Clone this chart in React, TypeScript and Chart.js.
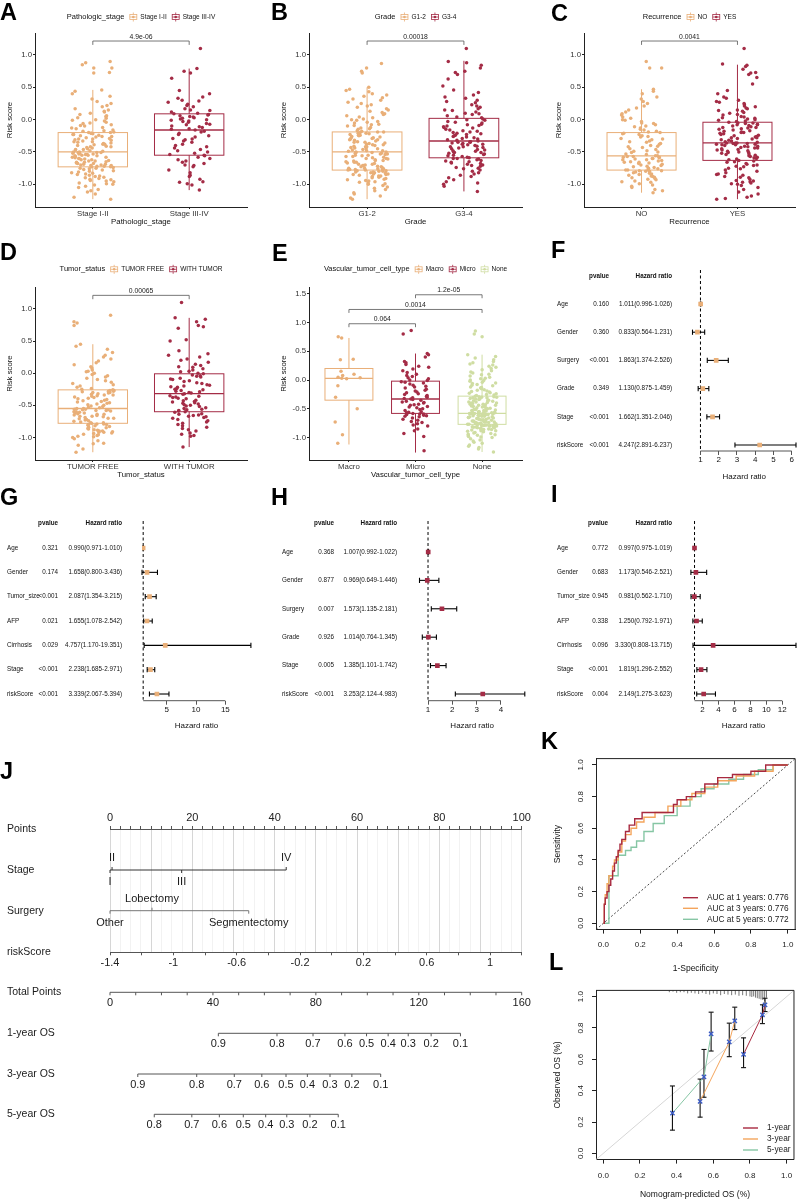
import React, { useEffect, useRef } from "react";
import { Chart, registerables } from "chart.js";
Chart.register(...registerables);

const FONT = '"Liberation Sans", Arial, Helvetica, sans-serif';
Chart.defaults.font.family = FONT;
Chart.defaults.color = "#333";

const TAN = "#E9AF78";
const MAROON = "#A42C46";
const LIME = "#CFDDA2";

// ---------------- Box panels (values in hundredths of risk score) ----------------
const stageCats = ["Stage I-II", "Stage III-IV"];
const stageI_II = [-123,-120,-115,-112,-110,-108,-105,-103,-101,-100,-99,-98,-96,-95,-94,-93,-92,-91,-90,-89,-88,-87,-86,-85,-84,-83,-82,-81,-80,-79,-78,-77,-76,-75,-75,-74,-73,-73,-72,-72,-71,-71,-70,-70,-69,-69,-68,-68,-67,-66,-66,-65,-64,-64,-63,-62,-62,-61,-60,-60,-59,-58,-58,-57,-56,-56,-55,-55,-54,-54,-53,-53,-52,-52,-51,-51,-51,-50,-50,-49,-48,-47,-46,-46,-45,-44,-43,-42,-42,-41,-40,-39,-38,-38,-37,-36,-35,-34,-34,-33,-32,-31,-30,-30,-29,-28,-27,-26,-26,-25,-24,-23,-23,-22,-21,-21,-20,-20,-19,-18,-17,-16,-14,-13,-12,-10,-9,-8,-6,-5,-4,-2,-1,0,2,3,5,6,8,10,12,13,15,17,20,22,25,28,32,36,40,44,46,72,73,80,80,85,88,90];
const stageIII_IV = [-109,-101,-99,-97,-96,-92,-88,-86,-82,-78,-73,-71,-70,-68,-66,-64,-62,-60,-58,-56,-55,-54,-52,-50,-48,-46,-44,-42,-40,-38,-35,-33,-31,-30,-29,-27,-25,-23,-21,-19,-18,-16,-15,-14,-12,-11,-10,-8,-7,-6,-4,-3,-2,-1,0,1,2,3,4,5,6,7,8,9,10,12,14,15,17,20,22,24,27,29,30,33,35,40,45,64,72,75,79,110];
const stageBox = [[-1.23,-0.73,-0.50,-0.20,0.46],[-1.09,-0.55,-0.16,0.09,0.79]];

const gradeCats = ["G1-2", "G3-4"];
const gradeG12 = [-123,-121,-118,-115,-113,-110,-108,-106,-104,-102,-100,-99,-98,-97,-96,-95,-94,-93,-92,-91,-90,-89,-88,-87,-87,-86,-85,-85,-84,-84,-83,-82,-82,-81,-81,-80,-80,-79,-79,-78,-78,-78,-77,-77,-76,-76,-75,-75,-74,-73,-73,-72,-71,-71,-70,-69,-69,-68,-67,-66,-66,-65,-64,-63,-63,-62,-61,-60,-60,-59,-58,-57,-57,-56,-55,-55,-54,-53,-53,-52,-52,-51,-51,-50,-50,-49,-48,-48,-47,-46,-45,-45,-44,-43,-42,-42,-41,-40,-39,-39,-38,-37,-36,-35,-35,-34,-33,-32,-31,-31,-30,-29,-28,-28,-27,-26,-25,-24,-24,-23,-22,-21,-21,-20,-19,-19,-18,-17,-15,-14,-13,-12,-10,-9,-8,-7,-5,-4,-3,-1,0,1,3,4,6,8,9,11,13,15,17,19,21,23,25,27,30,32,34,36,38,40,43,45,47,50,72,75,80,87];
const gradeG34 = [-111,-103,-100,-98,-96,-93,-90,-88,-86,-84,-82,-80,-78,-76,-75,-74,-72,-71,-70,-69,-68,-67,-66,-65,-64,-63,-62,-61,-60,-60,-59,-58,-57,-56,-55,-54,-53,-52,-51,-51,-50,-49,-48,-47,-46,-45,-44,-43,-42,-42,-41,-40,-39,-38,-38,-37,-36,-35,-35,-34,-34,-33,-32,-31,-30,-29,-28,-27,-26,-25,-24,-23,-22,-21,-20,-19,-18,-17,-16,-15,-13,-12,-11,-10,-9,-8,-7,-5,-4,-3,-1,0,1,3,4,6,8,9,10,12,14,15,17,19,21,23,26,28,30,33,35,38,42,46,52,63,70,73,75,80,84,88,90,110];
const gradeBox = [[-1.23,-0.78,-0.50,-0.19,0.50],[-1.11,-0.59,-0.33,0.02,0.91]];

const recCats = ["NO", "YES"];
const recNO = [-113,-110,-108,-105,-103,-101,-99,-97,-96,-95,-93,-92,-91,-90,-89,-88,-87,-86,-85,-84,-83,-82,-81,-80,-80,-79,-79,-78,-78,-77,-76,-75,-74,-73,-72,-71,-70,-69,-68,-67,-66,-66,-65,-64,-63,-62,-62,-61,-60,-60,-59,-58,-58,-57,-57,-56,-56,-54,-53,-51,-50,-49,-48,-46,-45,-43,-42,-41,-40,-38,-37,-35,-34,-33,-31,-30,-29,-27,-26,-25,-23,-22,-21,-20,-19,-18,-16,-15,-13,-11,-10,-8,-6,-5,-3,-1,0,2,4,7,9,12,15,18,21,25,28,32,35,40,44,47,80,80,90];
const recYES = [-123,-122,-120,-118,-115,-112,-108,-105,-102,-100,-99,-98,-97,-96,-95,-94,-92,-90,-89,-88,-86,-85,-84,-82,-80,-78,-76,-75,-73,-72,-71,-70,-69,-68,-66,-65,-64,-63,-62,-61,-60,-59,-58,-57,-56,-55,-54,-53,-52,-51,-51,-50,-49,-48,-47,-47,-46,-45,-44,-44,-43,-42,-41,-41,-40,-39,-39,-38,-38,-37,-37,-36,-36,-36,-35,-34,-33,-32,-31,-30,-29,-28,-28,-27,-26,-25,-24,-23,-22,-21,-20,-20,-19,-18,-17,-16,-15,-14,-13,-12,-12,-11,-10,-9,-8,-8,-7,-6,-5,-5,-4,-3,-2,-1,0,1,2,3,4,5,7,8,10,11,13,14,15,17,18,20,21,23,25,27,28,30,33,35,40,45,55,65,70,72,73,78,82,84,86,110];
const recBox = [[-1.13,-0.78,-0.56,-0.20,0.47],[-1.23,-0.63,-0.36,-0.04,0.85]];

const tumorCats = ["TUMOR FREE", "WITH TUMOR"];
const tumorFree = [-123,-118,-112,-110,-109,-105,-102,-100,-99,-98,-97,-96,-95,-94,-93,-92,-92,-91,-90,-90,-89,-88,-87,-86,-85,-84,-83,-82,-81,-80,-80,-79,-79,-78,-77,-77,-76,-75,-74,-73,-72,-71,-70,-70,-69,-68,-67,-67,-66,-65,-64,-64,-63,-62,-62,-61,-60,-60,-59,-58,-58,-57,-57,-56,-56,-55,-55,-54,-53,-52,-51,-50,-49,-48,-47,-46,-45,-44,-43,-42,-41,-40,-39,-38,-37,-36,-35,-34,-34,-33,-32,-31,-30,-30,-29,-28,-28,-27,-27,-26,-25,-24,-22,-20,-18,-16,-14,-12,-10,-8,-6,-4,-2,0,2,3,5,8,10,13,16,19,22,25,28,32,37,42,45,74,78,80,90];
const withTumor = [-115,-98,-97,-95,-93,-90,-88,-86,-84,-82,-80,-78,-76,-74,-72,-70,-69,-68,-67,-66,-65,-64,-63,-61,-60,-59,-58,-57,-56,-55,-54,-52,-51,-50,-49,-48,-47,-46,-45,-44,-43,-42,-40,-39,-38,-37,-36,-35,-33,-32,-31,-30,-29,-28,-27,-26,-25,-24,-22,-21,-20,-19,-18,-16,-15,-13,-12,-10,-9,-8,-6,-5,-4,-3,-1,0,2,3,5,7,9,10,12,14,17,20,22,25,28,30,35,50,52,70,72,74,80,84,86,110];
const tumorBox = [[-1.23,-0.78,-0.55,-0.26,0.45],[-1.15,-0.60,-0.32,-0.01,0.86]];

const vascCats = ["Macro", "Micro", "None"];
const vascMacro = [-110,-95,-73,-50,-30,-10,2,3,4,5,8,10,15,35,36,73,75];
const vascMicro = [-123,-98,-93,-88,-85,-80,-78,-76,-74,-72,-70,-68,-66,-64,-63,-62,-61,-60,-59,-59,-58,-57,-56,-55,-53,-51,-50,-48,-47,-46,-44,-43,-42,-40,-39,-38,-37,-35,-34,-33,-32,-31,-30,-28,-27,-25,-24,-22,-21,-19,-18,-16,-14,-12,-11,-9,-7,-5,-4,-3,-1,0,2,4,6,8,10,13,16,19,22,24,27,30,32,40,44,46,80,86];
const vascNone = [-125,-120,-117,-115,-113,-110,-108,-106,-104,-102,-100,-99,-98,-97,-96,-95,-94,-93,-92,-91,-90,-89,-88,-88,-87,-86,-86,-85,-84,-84,-83,-83,-82,-82,-81,-81,-80,-80,-80,-79,-79,-79,-78,-78,-78,-77,-77,-77,-76,-76,-76,-75,-75,-75,-74,-74,-73,-73,-72,-72,-71,-71,-70,-70,-69,-69,-68,-68,-67,-67,-66,-66,-65,-65,-64,-64,-63,-63,-62,-62,-61,-61,-61,-60,-60,-60,-59,-59,-59,-58,-58,-58,-58,-58,-57,-57,-56,-56,-55,-55,-54,-54,-53,-53,-52,-51,-51,-50,-50,-49,-48,-48,-47,-46,-46,-45,-44,-44,-43,-42,-42,-41,-40,-40,-39,-38,-38,-37,-36,-35,-35,-34,-33,-33,-32,-31,-31,-30,-30,-29,-29,-28,-27,-26,-25,-24,-23,-22,-21,-20,-19,-18,-17,-15,-14,-13,-12,-10,-9,-8,-6,-5,-4,-2,-1,0,2,3,5,7,9,10,12,14,16,18,20,22,24,26,28,30,32,35,38,41,44,75,80,85];
const vascBox = [[-1.12,-0.35,0.03,0.20,0.73],[-1.26,-0.58,-0.33,-0.02,0.46],[-1.25,-0.77,-0.58,-0.28,0.44]];

// ---------------- Forest plots ----------------
const fLabels = ["Age", "Gender", "Surgery", "Grade", "Stage", "riskScore"];
const fP = ["0.160", "0.360", "<0.001", "0.349", "<0.001", "<0.001"];
const fHR = [1.011, 0.833, 1.863, 1.130, 1.662, 4.247];
const fLo = [0.996, 0.564, 1.374, 0.875, 1.351, 2.891];
const fHi = [1.026, 1.231, 2.526, 1.459, 2.046, 6.237];
const fTicks = [1, 2, 3, 4, 5, 6];

const gLabels = ["Age", "Gender", "Tumor_size", "AFP", "Cirrhosis", "Stage", "riskScore"];
const gP = ["0.321", "0.174", "<0.001", "0.021", "0.029", "<0.001", "<0.001"];
const gHR = [0.990, 1.658, 2.087, 1.655, 4.757, 2.238, 3.339];
const gLo = [0.971, 0.800, 1.354, 1.078, 1.170, 1.685, 2.067];
const gHi = [1.010, 3.436, 3.215, 2.542, 19.351, 2.971, 5.394];
const gTicks = [5, 10, 15];

const hLabels = ["Age", "Gender", "Surgery", "Grade", "Stage", "riskScore"];
const hP = ["0.368", "0.877", "0.007", "0.926", "0.005", "<0.001"];
const hHR = [1.007, 0.969, 1.573, 1.014, 1.385, 3.253];
const hLo = [0.992, 0.649, 1.135, 0.764, 1.101, 2.124];
const hHi = [1.022, 1.446, 2.181, 1.345, 1.742, 4.983];
const hTicks = [1, 2, 3, 4];

const iLabels = ["Age", "Gender", "Tumor_size", "AFP", "Cirrhosis", "Stage", "riskScore"];
const iP = ["0.772", "0.683", "0.945", "0.338", "0.096", "<0.001", "0.004"];
const iHR = [0.997, 1.173, 0.981, 1.250, 3.330, 1.819, 2.149];
const iLo = [0.975, 0.546, 0.562, 0.792, 0.808, 1.296, 1.275];
const iHi = [1.019, 2.521, 1.710, 1.971, 13.715, 2.552, 3.623];
const iTicks = [2, 4, 6, 8, 10, 12];

// ---------------- Nomogram ----------------
const nomoRowNames = ["Points", "Stage", "Surgery", "riskScore", "Total Points", "1-year OS", "3-year OS", "5-year OS"];
const stageLevels = ["I", "II", "III", "IV"];
const stagePoints = [0, 0.5, 17.4, 42.8];
const stageAbove = [false, true, false, true];
const surgeryLevels = ["Other", "Lobectomy", "Segmentectomy"];
const surgeryPoints = [0, 10.2, 33.7];
const surgeryAbove = [false, true, false];
const riskRange = [-1.4, 1.2];
const totalRange = [0, 160];
const os1Values = [0.9, 0.8, 0.7, 0.6, 0.5, 0.4, 0.3, 0.2, 0.1];
const os1Points = [42.1, 64.9, 78.9, 91.3, 99.7, 108.1, 115.9, 124.8, 136.2];
const os3Values = [0.9, 0.8, 0.7, 0.6, 0.5, 0.4, 0.3, 0.2, 0.1];
const os3Points = [10.8, 33.7, 48.3, 59.0, 68.4, 76.7, 85.5, 94.0, 105.2];
const os5Values = [0.8, 0.7, 0.6, 0.5, 0.4, 0.3, 0.2, 0.1];
const os5Points = [17.2, 31.8, 42.5, 51.8, 60.5, 68.7, 77.7, 88.7];

// ---------------- ROC ----------------
const rocLabels = ["AUC at 1 years: 0.776", "AUC at 3 years: 0.776", "AUC at 5 years: 0.772"];
const rocFpr1 = [0, 0.005, 0.01, 0.02, 0.03, 0.04, 0.05, 0.06, 0.07, 0.08, 0.09, 0.10, 0.12, 0.14, 0.17, 0.21, 0.38, 0.40, 0.45, 0.50, 0.55, 0.62, 0.70, 0.80, 0.88, 1.0];
const rocTpr1 = [0, 0.12, 0.16, 0.20, 0.24, 0.28, 0.33, 0.38, 0.42, 0.46, 0.50, 0.53, 0.58, 0.62, 0.66, 0.70, 0.75, 0.78, 0.80, 0.83, 0.88, 0.92, 0.94, 0.96, 1.0, 1.0];
const rocFpr3 = [0, 0.005, 0.01, 0.02, 0.03, 0.05, 0.06, 0.08, 0.10, 0.12, 0.15, 0.18, 0.22, 0.28, 0.35, 0.42, 0.48, 0.55, 0.62, 0.72, 0.82, 0.92, 1.0];
const rocTpr3 = [0, 0.12, 0.18, 0.25, 0.30, 0.36, 0.40, 0.45, 0.52, 0.56, 0.60, 0.64, 0.67, 0.70, 0.74, 0.78, 0.82, 0.86, 0.90, 0.93, 0.96, 1.0, 1.0];
const rocFpr5 = [0, 0.03, 0.08, 0.12, 0.15, 0.18, 0.22, 0.27, 0.33, 0.40, 0.47, 0.53, 0.60, 0.68, 0.76, 0.84, 0.92, 1.0];
const rocTpr5 = [0, 0.30, 0.43, 0.46, 0.48, 0.52, 0.58, 0.63, 0.68, 0.74, 0.80, 0.85, 0.88, 0.91, 0.94, 0.97, 1.0, 1.0];

// ---------------- Calibration ----------------
const calLabels = ["1-year", "3-year", "5-year"];
const calPred1 = [0.765, 0.868, 0.882];
const calObs1 = [0.632, 0.884, 0.948];
const calLo1 = [0.547, 0.828, 0.905];
const calHi1 = [0.737, 0.948, 0.99];
const calPred3 = [0.528, 0.687, 0.717];
const calObs3 = [0.332, 0.711, 0.846];
const calLo3 = [0.231, 0.617, 0.79];
const calHi3 = [0.474, 0.831, 0.933];
const calPred5 = [0.377, 0.549, 0.588];
const calObs5 = [0.256, 0.488, 0.762];
const calLo5 = [0.148, 0.358, 0.653];
const calHi5 = [0.43, 0.663, 0.901];
const rugPred = [0.36, 0.38, 0.40, 0.42, 0.44, 0.46, 0.48, 0.50, 0.52, 0.54, 0.56, 0.58, 0.60, 0.62, 0.64, 0.66, 0.68, 0.70, 0.72, 0.74, 0.76, 0.78, 0.80, 0.81, 0.82, 0.83, 0.84, 0.85, 0.86, 0.87, 0.88, 0.89];
const rugCount = [3, 2, 4, 3, 3, 5, 4, 5, 6, 4, 6, 7, 5, 6, 8, 6, 7, 8, 7, 9, 8, 9, 10, 11, 10, 12, 13, 14, 15, 16, 18, 12];

// ====================================================================
const ROC_COLORS = ["#A8293F", "#F4A55C", "#86C6A4"];
const CAL_COLORS = ["#A8293F", "#F4A55C", "#86C6A4"];

// deterministic horizontal jitter (position only)
const jitter = (j: number, g: number) => {
  const h = Math.sin((j + 1) * 12.9898 + g * 78.233) * 43758.5453;
  return (h - Math.floor(h) - 0.5) * 0.44;
};

function seg(ctx: any, x1: number, y1: number, x2: number, y2: number) {
  ctx.beginPath();
  ctx.moveTo(x1, y1);
  ctx.lineTo(x2, y2);
  ctx.stroke();
}

function drawLegendKey(ctx: any, x: number, y: number, color: string) {
  ctx.save();
  ctx.strokeStyle = color;
  ctx.fillStyle = color;
  ctx.lineWidth = 0.8;
  ctx.strokeRect(x + 0.5, y - 2.5, 7, 5);
  seg(ctx, x + 4, y - 4.5, x + 4, y - 2.5);
  seg(ctx, x + 4, y + 2.5, x + 4, y + 4.5);
  seg(ctx, x + 0.5, y, x + 7.5, y);
  ctx.beginPath();
  ctx.arc(x + 4, y, 1.3, 0, Math.PI * 2);
  ctx.fill();
  ctx.restore();
}

function boxPanelConfig(p: any, pid: number) {
  const n = p.cats.length;
  const datasets = p.groups.map((vals: number[], i: number) => ({
    label: p.cats[i],
    data: vals.map((v, j) => ({ x: i + 1 + jitter(j, pid * 5 + i), y: v / 100 })),
    backgroundColor: p.colors[i],
    borderWidth: 0,
    pointRadius: 1.75,
  }));
  const boxPlugin = {
    id: "boxes",
    beforeDatasetsDraw(chart: any) {
      const { ctx } = chart;
      const xs = chart.scales.x, ys = chart.scales.y;
      ctx.save();
      p.stats.forEach((st: number[], i: number) => {
        const cx = xs.getPixelForValue(i + 1);
        const hw = xs.getPixelForValue(i + 1 + 0.36) - cx;
        const [lo, q1, md, q3, hi] = st.map((v) => ys.getPixelForValue(v));
        ctx.strokeStyle = p.colors[i];
        ctx.lineWidth = 1;
        seg(ctx, cx, lo, cx, q1);
        seg(ctx, cx, q3, cx, hi);
        ctx.strokeRect(cx - hw, q3, 2 * hw, q1 - q3);
        ctx.lineWidth = 1.3;
        seg(ctx, cx - hw, md, cx + hw, md);
      });
      ctx.restore();
    },
    afterDatasetsDraw(chart: any) {
      const { ctx } = chart;
      const xs = chart.scales.x, ys = chart.scales.y;
      ctx.save();
      ctx.strokeStyle = "#555";
      ctx.lineWidth = 0.8;
      ctx.fillStyle = "#222";
      ctx.font = `6.8px ${FONT}`;
      ctx.textAlign = "center";
      ctx.textBaseline = "bottom";
      p.brackets.forEach((b: any) => {
        const x1 = xs.getPixelForValue(b.a), x2 = xs.getPixelForValue(b.b);
        const y = ys.getPixelForValue(b.y), yt = ys.getPixelForValue(b.y - 0.06);
        ctx.beginPath();
        ctx.moveTo(x1, yt);
        ctx.lineTo(x1, y);
        ctx.lineTo(x2, y);
        ctx.lineTo(x2, yt);
        ctx.stroke();
        ctx.fillText(b.label, (x1 + x2) / 2, y - 1);
      });
      ctx.restore();
    },
    afterDraw(chart: any) {
      const { ctx, chartArea } = chart;
      ctx.save();
      ctx.textBaseline = "middle";
      ctx.textAlign = "left";
      ctx.fillStyle = "#111";
      ctx.font = `7.5px ${FONT}`;
      const tw = ctx.measureText(p.legendTitle).width;
      ctx.font = `6.5px ${FONT}`;
      const lws = p.cats.map((c: string) => ctx.measureText(c).width);
      let total = tw;
      lws.forEach((w: number) => (total += 5 + 8 + 3 + w));
      let x = (chartArea.left + chartArea.right) / 2 - total / 2;
      const y = p.legendY;
      ctx.font = `7.5px ${FONT}`;
      ctx.fillText(p.legendTitle, x, y);
      x += tw;
      ctx.font = `6.5px ${FONT}`;
      p.cats.forEach((c: string, i: number) => {
        x += 5;
        drawLegendKey(ctx, x, y, p.colors[i]);
        x += 8 + 3;
        ctx.fillStyle = "#111";
        ctx.fillText(c, x, y);
        x += lws[i];
      });
      ctx.restore();
    },
  };
  return {
    type: "scatter",
    data: { datasets },
    options: {
      animation: false,
      responsive: false,
      events: [],
      layout: { padding: { left: p.L - 30, right: p.w - p.R, top: p.T, bottom: p.h - p.B - 19.7 } },
      plugins: { legend: { display: false }, tooltip: { enabled: false } },
      scales: {
        x: {
          type: "linear",
          min: 0.4,
          max: n + 0.6,
          afterBuildTicks: (s: any) => { s.ticks = p.cats.map((_: string, i: number) => ({ value: i + 1 })); },
          afterFit: (s: any) => { s.height = 19.7; },
          ticks: { callback: (v: number) => p.cats[Math.round(v) - 1], font: { size: 7.8 }, color: "#333", padding: 0, autoSkip: false, maxRotation: 0 },
          grid: { drawOnChartArea: false, tickLength: 2, color: "#222", tickColor: "#222" },
          border: { color: "#222", width: 1 },
          title: { display: true, text: p.xTitle, font: { size: 7.8 }, color: "#111", padding: 0 },
        },
        y: {
          type: "linear",
          min: p.yMin,
          max: p.yMax,
          afterBuildTicks: (s: any) => { s.ticks = p.yTicks.map((v: number) => ({ value: v })); },
          afterFit: (s: any) => { s.width = 30; },
          ticks: { callback: (v: number) => v.toFixed(1), font: { size: 7.8 }, color: "#333", padding: 1 },
          grid: { drawOnChartArea: false, tickLength: 2, color: "#222", tickColor: "#222" },
          border: { color: "#222", width: 1 },
          title: { display: true, text: "Risk score", font: { size: 7.8 }, color: "#111", padding: 0 },
        },
      },
    },
    plugins: [boxPlugin],
  };
}

function forestConfig(f: any) {
  const xmin = Math.min(1, ...f.lo);
  const xmax = Math.max(...f.hi);
  const plugin = {
    id: "forest",
    beforeDatasetsDraw(chart: any) {
      const { ctx, chartArea } = chart;
      const xs = chart.scales.x, ys = chart.scales.y;
      ctx.save();
      ctx.strokeStyle = "#000";
      ctx.lineWidth = 1;
      ctx.setLineDash([3, 2.5]);
      const x1 = xs.getPixelForValue(1);
      seg(ctx, x1, chartArea.top, x1, chartArea.bottom - 1);
      ctx.setLineDash([]);
      ctx.lineWidth = 1.1;
      f.hr.forEach((_: number, i: number) => {
        const y = ys.getPixelForValue(i + 1);
        const a = xs.getPixelForValue(f.lo[i]);
        const b = xs.getPixelForValue(f.hi[i]);
        seg(ctx, a, y, b, y);
        seg(ctx, a, y - 2.6, a, y + 2.6);
        seg(ctx, b, y - 2.6, b, y + 2.6);
      });
      ctx.restore();
    },
    afterDraw(chart: any) {
      const { ctx, chartArea } = chart;
      const xs = chart.scales.x, ys = chart.scales.y;
      ctx.save();
      ctx.fillStyle = "#111";
      ctx.textBaseline = "middle";
      ctx.font = `bold 6.3px ${FONT}`;
      const yh = ys.getPixelForValue(0);
      ctx.textAlign = "right";
      ctx.fillText("pvalue", f.cols[1], yh);
      ctx.fillText("Hazard ratio", f.cols[2], yh);
      ctx.font = `6.3px ${FONT}`;
      f.labels.forEach((lab: string, i: number) => {
        const y = ys.getPixelForValue(i + 1);
        ctx.textAlign = "left";
        ctx.fillText(lab, f.cols[0], y);
        ctx.textAlign = "right";
        ctx.fillText(f.p[i], f.cols[1], y);
        ctx.fillText(`${f.hr[i].toFixed(3)}(${f.lo[i].toFixed(3)}-${f.hi[i].toFixed(3)})`, f.cols[2], y);
      });
      ctx.strokeStyle = "#555";
      ctx.lineWidth = 1;
      seg(ctx, xs.getPixelForValue(Math.max(1, xmin)), chartArea.bottom, xs.getPixelForValue(f.ticks[f.ticks.length - 1]), chartArea.bottom);
      ctx.restore();
    },
  };
  return {
    type: "scatter",
    data: {
      datasets: [{
        data: f.hr.map((v: number, i: number) => ({ x: v, y: i + 1 })),
        pointStyle: "rect",
        pointRadius: 3.3,
        backgroundColor: f.color,
        borderWidth: 0,
      }],
    },
    options: {
      animation: false,
      responsive: false,
      events: [],
      layout: { padding: { left: f.L, right: f.w - f.R, top: f.T, bottom: f.h - f.B - f.axisH } },
      plugins: { legend: { display: false }, tooltip: { enabled: false } },
      scales: {
        x: {
          type: "linear",
          min: xmin,
          max: xmax,
          afterBuildTicks: (s: any) => { s.ticks = f.ticks.map((v: number) => ({ value: v })); },
          afterFit: (s: any) => { s.height = f.axisH; },
          ticks: { font: { size: 8 }, color: "#111", padding: 0, autoSkip: false, maxRotation: 0 },
          grid: { drawOnChartArea: false, tickLength: 4, tickColor: "#555", color: "#555" },
          border: { display: false },
          title: { display: true, text: "Hazard ratio", font: { size: 8 }, color: "#111", padding: 0 },
        },
        y: { type: "linear", display: false, reverse: true, min: f.yTop, max: f.yBot },
      },
    },
    plugins: [plugin],
  };
}

const NOMO_TOP = 790;
const NOMO_ROW_Y = [829, 870, 910.7, 952.3, 992.3, 1033.3, 1074, 1114.3];

function nomoConfig() {
  const pointsTicks: number[] = [];
  for (let k = 0; k <= 40; k++) pointsTicks.push(k * 2.5);
  const riskTicks: number[] = [];
  for (let k = 0; k <= 13; k++) riskTicks.push(Math.round((riskRange[0] + k * 0.2) * 10) / 10);
  const totalTicks: number[] = [];
  for (let v = totalRange[0]; v <= totalRange[1]; v += 10) totalTicks.push(v);
  const plugin = {
    id: "nomo",
    afterDraw(chart: any) {
      const { ctx } = chart;
      const sp = chart.scales.x, st = chart.scales.xt;
      const Y = (v: number) => v - NOMO_TOP;
      ctx.save();
      ctx.lineWidth = 1;
      ctx.textBaseline = "middle";
      ctx.fillStyle = "#1a1a1a";
      ctx.font = `10.5px ${FONT}`;
      ctx.textAlign = "left";
      nomoRowNames.forEach((nm, i) => ctx.fillText(nm, 7, Y(NOMO_ROW_Y[i])));
      ctx.font = `11px ${FONT}`;
      ctx.textAlign = "center";
      const drawVar = (levels: string[], pts: number[], above: boolean[], y: number, color: string) => {
        ctx.strokeStyle = color;
        seg(ctx, sp.getPixelForValue(Math.min(...pts)), y, sp.getPixelForValue(Math.max(...pts)), y);
        levels.forEach((lv, i) => {
          const x = sp.getPixelForValue(pts[i]);
          const d = above[i] ? -1 : 1;
          seg(ctx, x, y, x, y + 3 * d);
          ctx.fillText(lv, x, y + 12 * d);
        });
      };
      drawVar(stageLevels, stagePoints, stageAbove, Y(NOMO_ROW_Y[1]), "#333");
      drawVar(surgeryLevels, surgeryPoints, surgeryAbove, Y(NOMO_ROW_Y[2]), "#777");
      ctx.strokeStyle = "#555";
      const yt = Y(NOMO_ROW_Y[4]);
      seg(ctx, st.getPixelForValue(totalRange[0]), yt, st.getPixelForValue(totalRange[1]), yt);
      totalTicks.forEach((v) => {
        const x = st.getPixelForValue(v);
        seg(ctx, x, yt, x, yt + 3);
        if (v % 40 === 0) ctx.fillText(String(v), x, yt + 11);
      });
      const drawOS = (vals: number[], pts: number[], y: number) => {
        seg(ctx, st.getPixelForValue(Math.min(...pts)), y, st.getPixelForValue(Math.max(...pts)), y);
        pts.forEach((p, i) => {
          const x = st.getPixelForValue(p);
          seg(ctx, x, y, x, y + 3);
          ctx.fillText(vals[i].toFixed(1), x, y + 11);
        });
      };
      drawOS(os1Values, os1Points, Y(NOMO_ROW_Y[5]));
      drawOS(os3Values, os3Points, Y(NOMO_ROW_Y[6]));
      drawOS(os5Values, os5Points, Y(NOMO_ROW_Y[7]));
      ctx.restore();
    },
  };
  const T = NOMO_ROW_Y[0] - NOMO_TOP;
  const B = NOMO_ROW_Y[3] - NOMO_TOP;
  return {
    type: "scatter",
    data: { datasets: [] },
    options: {
      animation: false,
      responsive: false,
      events: [],
      layout: { padding: { left: 110, right: 540 - 521.7, top: T - 17, bottom: 360 - B - 18 } },
      plugins: { legend: { display: false }, tooltip: { enabled: false } },
      scales: {
        x: {
          type: "linear",
          position: "top",
          min: 0,
          max: 100,
          afterBuildTicks: (s: any) => { s.ticks = pointsTicks.map((v) => ({ value: v })); },
          afterFit: (s: any) => { s.height = 17; },
          ticks: { autoSkip: false, maxRotation: 0, padding: 1.4, font: { size: 11 }, color: "#222", callback: (v: number) => (Math.abs(v % 20) < 1e-6 ? String(v) : "") },
          grid: { color: (c: any) => (c.tick && Math.abs(c.tick.value % 10) < 1e-6 ? "#d6d6d6" : "#f2f2f2"), lineWidth: 1, tickLength: 3, tickColor: "#555" },
          border: { color: "#555" },
        },
        xr: {
          type: "linear",
          position: "bottom",
          min: riskRange[0],
          max: riskRange[1],
          afterBuildTicks: (s: any) => { s.ticks = riskTicks.map((v) => ({ value: v })); },
          afterFit: (s: any) => { s.height = 18; },
          ticks: {
            autoSkip: false, maxRotation: 0, padding: 1, font: { size: 11 }, color: "#222",
            callback: (v: number) => (Math.round((v - riskRange[0]) * 10) % 4 === 0 ? String(Math.round(v * 10) / 10) : ""),
          },
          grid: { drawOnChartArea: false, tickLength: 3, tickColor: "#555" },
          border: { color: "#555" },
        },
        xt: { type: "linear", display: false, min: totalRange[0], max: totalRange[1] },
        y: { type: "linear", display: false, min: 0, max: 1 },
      },
    },
    plugins: [plugin],
  };
}

function rotatedYLabels(offset: number) {
  return {
    id: "rotY",
    afterDraw(chart: any) {
      const { ctx, chartArea } = chart;
      const ys = chart.scales.y;
      ctx.save();
      ctx.font = `8px ${FONT}`;
      ctx.fillStyle = "#222";
      ctx.textAlign = "center";
      ctx.textBaseline = "middle";
      ys.ticks.forEach((t: any) => {
        ctx.save();
        ctx.translate(chartArea.left - offset, ys.getPixelForValue(t.value));
        ctx.rotate(-Math.PI / 2);
        ctx.fillText(t.value.toFixed(1), 0, 0);
        ctx.restore();
      });
      ctx.strokeStyle = "#222";
      ctx.lineWidth = 1;
      seg(ctx, chartArea.left, chartArea.top, chartArea.right, chartArea.top);
      seg(ctx, chartArea.right, chartArea.top, chartArea.right, chartArea.bottom);
      ctx.restore();
    },
  };
}

function unitAxes(xTitle: string, yTitle: string, xAxisH: number, tickPad: number) {
  const ticks01 = [0, 0.2, 0.4, 0.6, 0.8, 1.0];
  return {
    x: {
      type: "linear",
      min: -0.04,
      max: 1.04,
      afterBuildTicks: (s: any) => { s.ticks = ticks01.map((v) => ({ value: v })); },
      afterFit: (s: any) => { s.height = xAxisH; },
      ticks: { font: { size: 8 }, color: "#222", padding: tickPad, autoSkip: false, maxRotation: 0, callback: (v: number) => v.toFixed(1) },
      grid: { drawOnChartArea: false, tickLength: 4, tickColor: "#222" },
      border: { color: "#222" },
      title: { display: true, text: xTitle, font: { size: 8.5 }, color: "#111", padding: 0 },
    },
    y: {
      type: "linear",
      min: -0.04,
      max: 1.04,
      afterBuildTicks: (s: any) => { s.ticks = ticks01.map((v) => ({ value: v })); },
      afterFit: (s: any) => { s.width = 43; },
      ticks: { display: false },
      grid: { drawOnChartArea: false, tickLength: 4, tickColor: "#222" },
      border: { color: "#222" },
      title: { display: true, text: yTitle, font: { size: 8.5 }, color: "#111", padding: 0 },
    },
  };
}

function legendInside(labels: string[], colors: string[], rowsY: number[], lineX: number, textX: number) {
  return {
    id: "legIn",
    afterDraw(chart: any) {
      const { ctx } = chart;
      ctx.save();
      ctx.font = `8.3px ${FONT}`;
      ctx.textAlign = "left";
      ctx.textBaseline = "middle";
      labels.forEach((lab, i) => {
        ctx.strokeStyle = colors[i];
        ctx.lineWidth = 1.4;
        seg(ctx, lineX, rowsY[i], lineX + 15, rowsY[i]);
        ctx.fillStyle = "#222";
        ctx.fillText(lab, textX, rowsY[i]);
      });
      ctx.restore();
    },
  };
}

function rocConfig() {
  const series = [[rocFpr1, rocTpr1], [rocFpr3, rocTpr3], [rocFpr5, rocTpr5]];
  const diag = {
    id: "diag",
    beforeDatasetsDraw(chart: any) {
      const { ctx } = chart;
      const xs = chart.scales.x, ys = chart.scales.y;
      ctx.save();
      ctx.setLineDash([2, 2]);
      ctx.strokeStyle = "#333";
      ctx.lineWidth = 0.9;
      seg(ctx, xs.getPixelForValue(xs.min), ys.getPixelForValue(ys.min), xs.getPixelForValue(xs.max), ys.getPixelForValue(ys.max));
      ctx.restore();
    },
  };
  return {
    type: "line",
    data: {
      datasets: series.map((s, k) => ({
        label: rocLabels[k],
        data: s[0].map((x, i) => ({ x, y: s[1][i] })),
        borderColor: ROC_COLORS[k],
        borderWidth: 1.4,
        pointRadius: 0,
        stepped: "before",
        fill: false,
      })),
    },
    options: {
      animation: false,
      responsive: false,
      events: [],
      layout: { padding: { left: 13, right: 1, top: 6.6, bottom: 236 - 177.6 - 44.5 } },
      plugins: { legend: { display: false }, tooltip: { enabled: false } },
      scales: unitAxes("1-Specificity", "Sensitivity", 44.5, 6.6),
    },
    plugins: [diag, rotatedYLabels(15), legendInside(rocLabels, ROC_COLORS, [145.7, 156.3, 167.3], 143, 167)],
  };
}

function calConfig() {
  const series = [
    [calPred1, calObs1, calLo1, calHi1],
    [calPred3, calObs3, calLo3, calHi3],
    [calPred5, calObs5, calLo5, calHi5],
  ];
  const extra = {
    id: "cal",
    beforeDatasetsDraw(chart: any) {
      const { ctx, chartArea } = chart;
      const xs = chart.scales.x, ys = chart.scales.y;
      ctx.save();
      ctx.strokeStyle = "#d6d6d6";
      ctx.lineWidth = 1;
      seg(ctx, xs.getPixelForValue(xs.min), ys.getPixelForValue(ys.min), xs.getPixelForValue(xs.max), ys.getPixelForValue(ys.max));
      ctx.strokeStyle = "#777";
      rugPred.forEach((v, i) => {
        const x = xs.getPixelForValue(v);
        seg(ctx, x, chartArea.top, x, chartArea.top + rugCount[i] * 0.6);
      });
      ctx.strokeStyle = "#111";
      ctx.lineWidth = 1.1;
      series.forEach((s) => {
        s[0].forEach((p, i) => {
          const x = xs.getPixelForValue(p);
          const a = ys.getPixelForValue(s[2][i]);
          const b = ys.getPixelForValue(s[3][i]);
          seg(ctx, x, a, x, b);
          seg(ctx, x - 2.5, a, x + 2.5, a);
          seg(ctx, x - 2.5, b, x + 2.5, b);
        });
      });
      ctx.restore();
    },
  };
  return {
    type: "line",
    data: {
      datasets: series.map((s, k) => ({
        label: calLabels[k],
        data: s[0].map((x, i) => ({ x, y: s[1][i] })),
        borderColor: CAL_COLORS[k],
        borderWidth: 1,
        pointStyle: "crossRot",
        pointRadius: 3,
        pointBorderColor: "#3B5BC4",
        pointBorderWidth: 1.4,
        fill: false,
      })),
    },
    options: {
      animation: false,
      responsive: false,
      events: [],
      layout: { padding: { left: 13, right: 1, top: 3.7, bottom: 218 - 174.6 - 40.5 } },
      plugins: { legend: { display: false }, tooltip: { enabled: false } },
      scales: unitAxes("Nomogram-predicted OS (%)", "Observed OS (%)", 40.5, 7.6),
    },
    plugins: [extra, rotatedYLabels(15), legendInside(calLabels, CAL_COLORS, [143, 154, 165], 203, 227)],
  };
}

function ChartCanvas(props: { left: number; top: number; width: number; height: number; make: () => any }) {
  const ref = useRef<HTMLCanvasElement>(null);
  useEffect(() => {
    const chart = new Chart(ref.current as HTMLCanvasElement, props.make());
    return () => chart.destroy();
  }, []);
  return (
    <canvas
      ref={ref}
      width={props.width}
      height={props.height}
      style={{ position: "absolute", left: props.left, top: props.top, width: props.width, height: props.height, display: "block" }}
    />
  );
}

const yTicksStd = [-1, -0.5, 0, 0.5, 1];
const yTicksE = [-1, -0.5, 0, 0.5, 1, 1.5];

const panels: any[] = [
  { left: 0, top: 0, w: 265, h: 262, L: 35, R: 247, T: 33, B: 207, legendY: 17, yMin: -1.351, yMax: 1.34, yTicks: yTicksStd,
    cats: stageCats, groups: [stageI_II, stageIII_IV], stats: stageBox, colors: [TAN, MAROON], legendTitle: "Pathologic_stage", xTitle: "Pathologic_stage",
    brackets: [{ a: 1, b: 2, y: 1.216, label: "4.9e-06" }] },
  { left: 265, top: 0, w: 265, h: 262, L: 44, R: 257, T: 33, B: 207, legendY: 17, yMin: -1.351, yMax: 1.34, yTicks: yTicksStd,
    cats: gradeCats, groups: [gradeG12, gradeG34], stats: gradeBox, colors: [TAN, MAROON], legendTitle: "Grade", xTitle: "Grade",
    brackets: [{ a: 1, b: 2, y: 1.216, label: "0.00018" }] },
  { left: 530, top: 0, w: 270, h: 262, L: 54, R: 265, T: 33, B: 207, legendY: 17, yMin: -1.351, yMax: 1.34, yTicks: yTicksStd,
    cats: recCats, groups: [recNO, recYES], stats: recBox, colors: [TAN, MAROON], legendTitle: "Recurrence", xTitle: "Recurrence",
    brackets: [{ a: 1, b: 2, y: 1.216, label: "0.0041" }] },
  { left: 0, top: 262, w: 265, h: 263, L: 35, R: 247, T: 25, B: 198, legendY: 7.3, yMin: -1.351, yMax: 1.34, yTicks: yTicksStd,
    cats: tumorCats, groups: [tumorFree, withTumor], stats: tumorBox, colors: [TAN, MAROON], legendTitle: "Tumor_status", xTitle: "Tumor_status",
    brackets: [{ a: 1, b: 2, y: 1.21, label: "0.00065" }] },
  { left: 265, top: 262, w: 265, h: 263, L: 44, R: 257, T: 25, B: 198, legendY: 7.3, yMin: -1.389, yMax: 1.615, yTicks: yTicksE,
    cats: vascCats, groups: [vascMacro, vascMicro, vascNone], stats: vascBox, colors: [TAN, MAROON, LIME], legendTitle: "Vascular_tumor_cell_type", xTitle: "Vascular_tumor_cell_type",
    brackets: [{ a: 1, b: 2, y: 0.977, label: "0.064" }, { a: 1, b: 3, y: 1.225, label: "0.0014" }, { a: 2, b: 3, y: 1.48, label: "1.2e-05" }] },
];

const forests: any[] = [
  { left: 530, top: 262, w: 270, h: 263, L: 162.5, R: 270, T: 8, B: 189, axisH: 31, yTop: -0.206, yBot: 6.213, cols: [27, 79, 142],
    labels: fLabels, p: fP, hr: fHR, lo: fLo, hi: fHi, ticks: fTicks, color: TAN },
  { left: 0, top: 510, w: 265, h: 260, L: 142, R: 250.9, T: 11, B: 190.7, axisH: 30.3, yTop: -0.11, yBot: 7.275, cols: [7, 58, 122],
    labels: gLabels, p: gP, hr: gHR, lo: gLo, hi: gHi, ticks: gTicks, color: TAN },
  { left: 265, top: 510, w: 265, h: 260, L: 154.5, R: 259.8, T: 11, B: 190.7, axisH: 30.3, yTop: -0.09, yBot: 6.236, cols: [17, 69, 132],
    labels: hLabels, p: hP, hr: hHR, lo: hLo, hi: hHi, ticks: hTicks, color: MAROON },
  { left: 530, top: 510, w: 270, h: 260, L: 160.9, R: 270, T: 11, B: 190.7, axisH: 30.3, yTop: -0.11, yBot: 7.275, cols: [27, 78, 142],
    labels: iLabels, p: iP, hr: iHR, lo: iLo, hi: iHi, ticks: iTicks, color: MAROON },
];

const letters: [string, number, number][] = [
  ["A", 0, 0], ["B", 271, 0], ["C", 551, 1], ["D", 0, 240], ["E", 272, 241], ["F", 551, 238],
  ["G", 0, 485], ["H", 271, 485], ["I", 551, 482], ["J", 0, 759], ["K", 541, 729], ["L", 549, 950],
];

export default function App() {
  return (
    <div style={{ position: "absolute", left: 0, top: 0, width: 800, height: 1203, background: "#fff", overflow: "hidden", fontFamily: FONT }}>
      {panels.map((p, i) => (
        <ChartCanvas key={"p" + i} left={p.left} top={p.top} width={p.w} height={p.h} make={() => boxPanelConfig(p, i)} />
      ))}
      {forests.map((f, i) => (
        <ChartCanvas key={"f" + i} left={f.left} top={f.top} width={f.w} height={f.h} make={() => forestConfig(f)} />
      ))}
      <ChartCanvas left={0} top={NOMO_TOP} width={540} height={360} make={nomoConfig} />
      <ChartCanvas left={540} top={752} width={260} height={236} make={rocConfig} />
      <ChartCanvas left={540} top={985} width={260} height={218} make={calConfig} />
      {letters.map(([t, x, y]) => (
        <div key={t} style={{ position: "absolute", left: x, top: y, fontSize: 23.5, lineHeight: "24px", fontWeight: "bold", color: "#000" }}>
          {t}
        </div>
      ))}
    </div>
  );
}
